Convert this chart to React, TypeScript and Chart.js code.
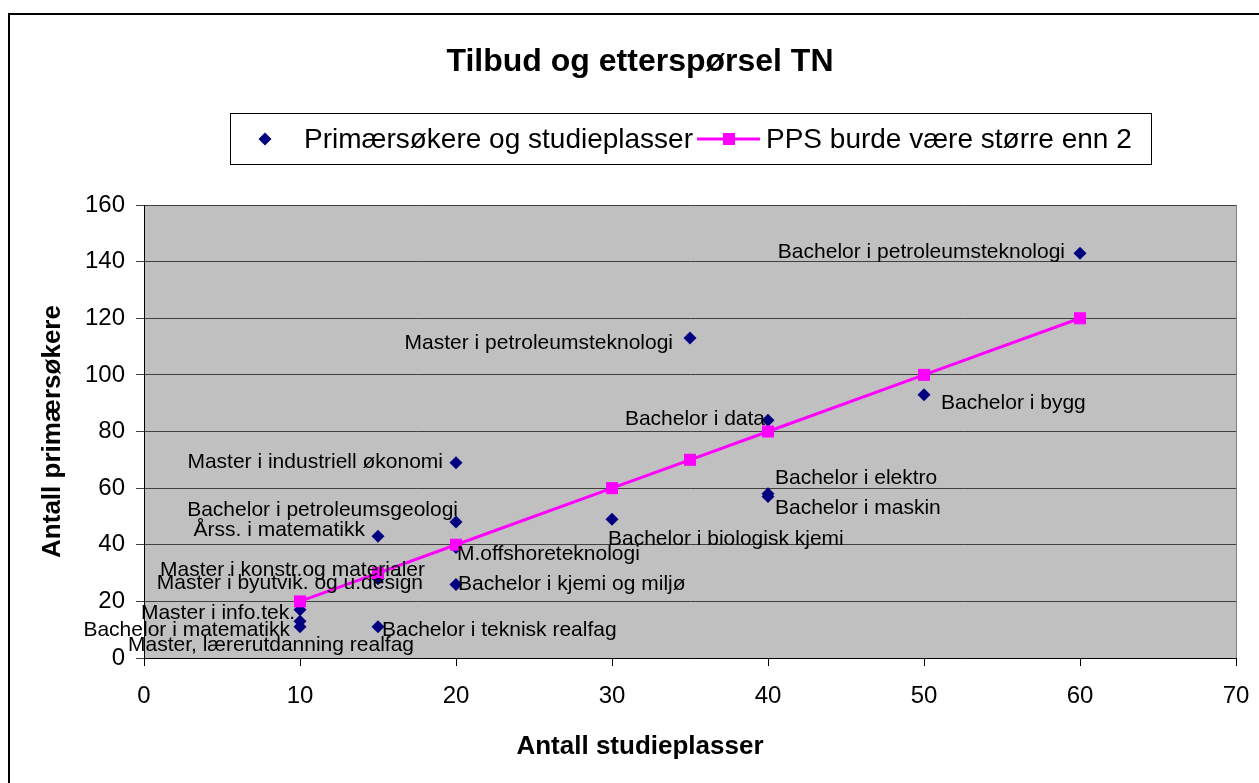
import React, { useEffect, useRef } from "react";
import { Chart, registerables } from "chart.js";

Chart.register(...registerables);

// ---- Data ----
const chartTitle = "Tilbud og etterspørsel TN";
const xAxisTitle = "Antall studieplasser";
const yAxisTitle = "Antall primærsøkere";
const seriesNames = ["Primærsøkere og studieplasser", "PPS burde være større enn 2"];

const programNames = [
  "Bachelor i petroleumsteknologi",
  "Master i petroleumsteknologi",
  "Bachelor i data",
  "Bachelor i bygg",
  "Bachelor i elektro",
  "Bachelor i maskin",
  "Bachelor i biologisk kjemi",
  "Master i industriell økonomi",
  "Bachelor i petroleumsgeologi",
  "Årss. i matematikk",
  "M.offshoreteknologi",
  "Bachelor i kjemi og miljø",
  "Master i konstr.og materialer",
  "Master i byutvik. og u.design",
  "Master i info.tek.",
  "Bachelor i matematikk",
  "Master, lærerutdanning realfag",
  "Bachelor i teknisk realfag",
];
const studyPlaces = [60, 35, 40, 50, 40, 40, 30, 20, 20, 15, 20, 20, 15, 15, 10, 10, 10, 15];
const primaryApplicants = [143, 113, 84, 93, 58, 57, 49, 69, 48, 43, 39, 26, 30, 28, 17, 13, 11, 11];

const ppsPlaces = [10, 15, 20, 30, 35, 40, 50, 60];
const ppsApplicants = [20, 30, 40, 60, 70, 80, 100, 120];

const xMin = 0, xMax = 70, xStep = 10;
const yMin = 0, yMax = 160, yStep = 20;

// ---- Label styling (alignment and pixel nudges, not data) ----
const labelAlign = [
  "right", "right", "right", "left", "left", "left", "left", "right", "right",
  "right", "left", "left", "right", "right", "right", "right", "center", "left",
];
const labelDx = [-15, -17, -3, 17, 7, 7, -4, -13, 2, -13, 1, 2, 47, 45, -5, -10, -29, 4];
const labelDy = [-1, 5, -1, 9, -16, 12, 20, 0, -12, -6, 7, 0, -3, 4, 3, 9, 18, 3];

const FONT = "'Liberation Sans', Arial, Helvetica, sans-serif";
const NAVY = "#000080";
const MAGENTA = "#FF00FF";

function drawDiamond(ctx: CanvasRenderingContext2D, x: number, y: number, r: number) {
  ctx.beginPath();
  ctx.moveTo(x - r, y);
  ctx.lineTo(x, y - r);
  ctx.lineTo(x + r, y);
  ctx.lineTo(x, y + r);
  ctx.closePath();
  ctx.fill();
}

const excelPlugin = {
  id: "excelLook",
  beforeDraw(chart: any) {
    const { ctx, chartArea: a } = chart;
    ctx.save();
    ctx.fillStyle = "#ffffff";
    ctx.fillRect(0, 0, chart.width, chart.height);
    ctx.fillStyle = "#C0C0C0";
    ctx.fillRect(a.left, a.top, a.right - a.left, a.bottom - a.top);
    ctx.restore();
  },
  afterDatasetsDraw(chart: any) {
    const { ctx } = chart;
    const meta = chart.getDatasetMeta(0);
    ctx.save();
    ctx.font = `21px ${FONT}`;
    ctx.fillStyle = "#000";
    ctx.textBaseline = "middle";
    meta.data.forEach((pt: any, i: number) => {
      ctx.textAlign = labelAlign[i] as CanvasTextAlign;
      ctx.fillText(programNames[i], pt.x + labelDx[i], pt.y + labelDy[i]);
    });
    ctx.restore();
  },
  afterDraw(chart: any) {
    const { ctx, chartArea: a } = chart;
    ctx.save();
    // right border of plot area
    ctx.strokeStyle = "#808080";
    ctx.lineWidth = 1;
    ctx.beginPath();
    ctx.moveTo(a.right + 0.5, a.top);
    ctx.lineTo(a.right + 0.5, a.bottom);
    ctx.stroke();

    // chart title
    ctx.fillStyle = "#000";
    ctx.font = `bold 32px ${FONT}`;
    ctx.textAlign = "center";
    ctx.textBaseline = "middle";
    ctx.fillText(chartTitle, 640, 62);

    // x axis title
    ctx.font = `bold 26px ${FONT}`;
    ctx.fillText(xAxisTitle, 640, 747);

    // legend
    ctx.strokeStyle = "#000";
    ctx.lineWidth = 1;
    ctx.strokeRect(230.5, 113.5, 921, 51);
    const ly = 139;
    ctx.fillStyle = NAVY;
    drawDiamond(ctx, 265, ly, 6.5);
    ctx.fillStyle = "#000";
    ctx.font = `28px ${FONT}`;
    ctx.textAlign = "left";
    ctx.fillText(seriesNames[0], 304, ly + 1);
    ctx.strokeStyle = MAGENTA;
    ctx.lineWidth = 3;
    ctx.beginPath();
    ctx.moveTo(697, ly);
    ctx.lineTo(760, ly);
    ctx.stroke();
    ctx.fillStyle = MAGENTA;
    ctx.fillRect(723, ly - 6, 12, 12);
    ctx.fillStyle = "#000";
    ctx.fillText(seriesNames[1], 766, ly + 1);

    // outer chart border
    ctx.strokeStyle = "#000";
    ctx.lineWidth = 2;
    ctx.strokeRect(9, 14, 1400, 1000);
    ctx.restore();
  },
};

export default function App() {
  const ref = useRef<HTMLCanvasElement>(null);

  useEffect(() => {
    const canvas = ref.current;
    if (!canvas) return;
    const chart = new Chart(canvas, {
      type: "scatter",
      data: {
        datasets: [
          {
            label: seriesNames[0],
            data: studyPlaces.map((x, i) => ({ x, y: primaryApplicants[i] })),
            pointStyle: "rectRot",
            pointRadius: 6.5,
            pointBackgroundColor: NAVY,
            pointBorderColor: NAVY,
            pointBorderWidth: 0,
            showLine: false,
            order: 2,
          },
          {
            label: seriesNames[1],
            data: ppsPlaces.map((x, i) => ({ x, y: ppsApplicants[i] })),
            showLine: true,
            borderColor: MAGENTA,
            borderWidth: 3,
            pointStyle: "rect",
            pointRadius: 8.5,
            pointBackgroundColor: MAGENTA,
            pointBorderColor: MAGENTA,
            pointBorderWidth: 0,
            order: 1,
          },
        ],
      },
      options: {
        responsive: false,
        animation: false,
        layout: { padding: { top: 205, right: 23, left: 0, bottom: 0 }, autoPadding: false } as any,
        plugins: {
          legend: { display: false },
          title: { display: false },
          tooltip: { enabled: false },
        },
        scales: {
          x: {
            type: "linear",
            min: xMin,
            max: xMax,
            ticks: {
              stepSize: xStep,
              color: "#000",
              font: { family: FONT, size: 24 },
              padding: 16,
              maxRotation: 0,
            },
            grid: { drawOnChartArea: false, drawTicks: true, tickLength: 8, color: "#000" },
            border: { color: "#000", width: 1 },
            afterFit: (s: any) => {
              s.height = 125;
              s.paddingLeft = 0;
              s.paddingRight = 0;
            },
          },
          y: {
            type: "linear",
            min: yMin,
            max: yMax,
            ticks: {
              stepSize: yStep,
              color: "#000",
              font: { family: FONT, size: 24 },
              padding: 11,
            },
            grid: { color: "#404040", lineWidth: 1, tickLength: 8, drawTicks: true },
            border: { color: "#000", width: 1 },
            title: {
              display: true,
              text: yAxisTitle,
              color: "#000",
              font: { family: FONT, size: 26, weight: "bold" },
              padding: { top: 37, bottom: 0 },
            },
            afterFit: (s: any) => {
              s.width = 144;
              s.paddingTop = 0;
              s.paddingBottom = 0;
            },
          },
        },
      },
      plugins: [excelPlugin],
    });
    return () => chart.destroy();
  }, []);

  return (
    <div style={{ position: "fixed", left: 0, top: 0, width: 1259, height: 783, background: "#fff" }}>
      <canvas ref={ref} width={1259} height={783} style={{ display: "block", width: 1259, height: 783 }} />
    </div>
  );
}
